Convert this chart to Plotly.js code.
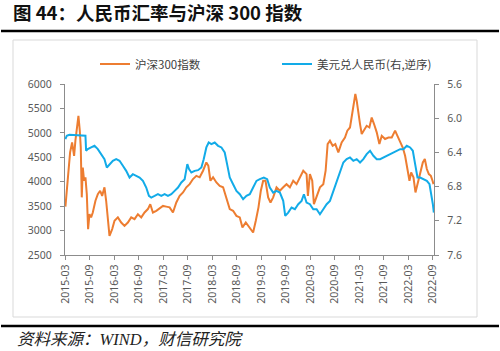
<!DOCTYPE html>
<html>
<head>
<meta charset="utf-8">
<script src="https://cdn.plot.ly/plotly-3.0.1.min.js"></script>
<style>
html,body{margin:0;padding:0;background:#fff;}
#chart{width:500px;height:351px;}
</style>
</head>
<body>
<div id="chart"></div>
<script>
// Month index counted from 2015-03 (0) to 2022-09 (90)
const tickMonths = [0,6,12,18,24,30,36,42,48,54,60,66,72,78,84,90];
const tickLabels = ["2015-03","2015-09","2016-03","2016-09","2017-03","2017-09","2018-03","2018-09",
                    "2019-03","2019-09","2020-03","2020-09","2021-03","2021-09","2022-03","2022-09"];

// 沪深300指数
const csiMonths = [0,0.57,1.15,1.64,2.13,2.45,2.86,3.19,3.52,3.76,4.01,4.26,4.58,4.91,5.24,5.56,5.89,6.30,6.71,7.36,
  7.94,8.51,9.0,9.57,9.98,10.47,10.80,11.46,12.03,12.85,13.67,14.48,15.30,16.12,16.94,17.76,18.58,19.39,20.21,20.79,
  21.44,22.26,23.08,23.90,24.71,25.53,26.35,27.17,27.99,28.81,29.62,30.44,31.26,32.08,32.90,33.72,34.53,35.02,35.52,36.17,
  36.99,37.81,38.63,39.44,40.26,41.08,41.90,42.72,43.37,44.19,44.84,45.58,45.99,46.64,47.30,47.87,48.45,49.02,49.67,50.25,
  50.90,51.72,52.54,53.36,54.17,54.99,55.81,56.63,57.45,58.27,59.08,59.41,59.90,60.47,60.88,61.54,62.36,63.18,63.75,64.24,
  64.81,65.47,66.12,66.86,67.68,68.49,69.07,69.72,70.54,71.03,71.36,71.77,72.18,72.59,73.16,73.81,74.47,75.04,75.61,76.27,
  76.92,77.50,78.31,79.13,79.95,80.77,81.34,82.0,82.65,83.22,83.80,84.29,84.70,85.27,85.76,86.25,86.91,87.56,88.05,88.54,
  89.03,89.53,89.94,90.18];
const csiValues = [3490,4020,4600,4805,4530,4840,5180,5350,5045,4705,3680,4290,4020,4090,3745,3030,3335,3270,3370,3610,
  3745,3815,3710,3885,3610,3065,2890,3030,3200,3270,3165,3095,3165,3270,3235,3335,3270,3370,3440,3540,
  3370,3405,3460,3505,3490,3475,3370,3575,3710,3780,3885,3950,4055,4120,4090,4225,4395,4325,4020,4090,
  3985,3915,3885,3645,3440,3405,3300,3270,3065,3165,3095,2995,2960,3200,3475,3815,4020,4020,3680,3575,
  3680,3885,3815,3885,3950,3885,4020,3950,4090,4225,4155,3710,4155,4020,3540,3710,3885,3950,4225,4770,
  4840,4735,4770,4600,4805,4905,5045,5110,5520,5795,5660,5385,5180,4975,5045,5145,5110,5315,5180,5010,
  4770,4940,4875,4905,4905,5045,4940,4805,4700,4530,4290,4020,4190,4090,3780,3950,4155,4395,4465,4260,
  4155,4120,4020,3950];

// 美元兑人民币
const fxMonths = [0,0.33,0.98,2.62,3.85,4.91,5.07,5.48,6.30,7.12,7.94,8.76,9.57,10.15,10.80,11.62,12.44,13.26,14.08,14.89,
  15.71,16.53,17.35,18.17,18.99,19.80,20.46,21.03,21.85,22.67,23.49,24.30,25.12,25.94,26.76,27.58,28.40,29.21,29.87,30.28,
  30.85,31.67,32.49,33.31,33.88,34.53,35.11,35.76,36.58,37.40,38.22,39.03,39.61,40.26,41.08,41.90,42.72,43.54,44.35,45.17,
  45.99,46.81,47.63,48.61,49.43,50.08,50.90,51.72,52.54,53.36,53.85,54.58,55.40,56.22,57.04,57.86,58.43,59.08,59.90,60.72,
  61.54,62.36,63.18,64.0,64.81,65.63,66.45,67.27,68.09,68.90,69.72,70.54,71.36,72.18,72.99,73.81,74.63,75.45,76.27,77.09,
  77.91,78.72,79.54,80.36,81.18,82.0,82.82,83.63,84.45,85.11,85.68,86.25,86.91,87.73,88.54,89.20,89.69,90.02,90.26];
const fxValues = [6.244,6.205,6.194,6.198,6.205,6.205,6.381,6.362,6.342,6.323,6.362,6.420,6.479,6.577,6.537,6.498,6.479,6.498,6.557,6.616,
  6.694,6.655,6.674,6.694,6.733,6.811,6.909,6.928,6.909,6.889,6.909,6.889,6.909,6.889,6.850,6.811,6.752,6.713,6.537,6.596,
  6.635,6.616,6.608,6.577,6.479,6.342,6.284,6.303,6.284,6.323,6.342,6.401,6.537,6.694,6.772,6.850,6.889,6.948,6.909,6.889,
  6.811,6.733,6.713,6.694,6.713,6.811,6.870,6.850,6.870,6.967,7.143,7.104,7.045,7.065,7.006,6.967,6.889,6.987,7.006,7.065,
  7.065,7.123,7.065,7.006,6.967,6.850,6.733,6.616,6.518,6.479,6.459,6.498,6.479,6.518,6.479,6.420,6.381,6.440,6.479,6.479,
  6.459,6.440,6.420,6.401,6.381,6.362,6.362,6.323,6.342,6.381,6.537,6.694,6.694,6.713,6.733,6.772,6.889,7.006,7.104];

const leftTicks = [2500,3000,3500,4000,4500,5000,5500,6000];
const rightTicks = [5.6,6.0,6.4,6.8,7.2,7.6];

const axisColor = '#8c8c8c';
const tickFont = {family:'Noto Sans, sans-serif', size:10.5, color:'#595959'};
const cjk = 'Noto Sans CJK SC, sans-serif';

const traces = [
  {x: csiMonths, y: csiValues, type:'scatter', mode:'lines', name:'沪深300指数',
   line:{color:'#ED7D31', width:2}, yaxis:'y'},
  {x: fxMonths, y: fxValues, type:'scatter', mode:'lines', name:'美元兑人民币(右,逆序)',
   line:{color:'#12ABE8', width:2}, yaxis:'y2'}
];

// paper-coordinate helpers for the decorative frame (plot area spans px 65..434, 84..255)
const px = v => (v - 65) / 369;
const py = v => (255 - v) / 171;

const layout = {
  width:500, height:351,
  margin:{l:65, r:66, t:84, b:96},
  paper_bgcolor:'#fff', plot_bgcolor:'#fff',
  showlegend:true,
  title:{text:'<b>图 44：人民币汇率与沪深 300 指数</b>', x:0.026, xanchor:'left', xref:'container',
         y:0.962, yanchor:'middle', yref:'container',
         font:{family:cjk, size:18.5, color:'#111'}},
  legend:{orientation:'h', x:px(95), xanchor:'left', y:py(64), yanchor:'middle',
          font:{family:cjk, size:11.5, color:'#404040'}, bgcolor:'rgba(0,0,0,0)',
          entrywidth:137, entrywidthmode:'pixels', itemwidth:30},
  xaxis:{range:[-0.1, 90.3], tickvals:tickMonths, ticktext:tickLabels, tickangle:-90,
         showline:true, linecolor:axisColor, linewidth:1.2, ticks:'outside', ticklen:4, tickcolor:axisColor,
         showgrid:false, zeroline:false, tickfont:tickFont, fixedrange:true},
  yaxis:{range:[2500,6000], tickvals:leftTicks, showline:true, linecolor:axisColor, linewidth:1.2,
         ticks:'outside', ticklen:4, tickcolor:axisColor, showgrid:false, zeroline:false,
         tickfont:tickFont, ticklabelstandoff:6},
  yaxis2:{range:[7.6,5.6], tickvals:rightTicks, tickformat:'.1f', overlaying:'y', side:'right',
          showline:true, linecolor:axisColor, linewidth:1.2, ticks:'outside', ticklen:4, tickcolor:axisColor,
          showgrid:false, zeroline:false, tickfont:tickFont, ticklabelstandoff:6},
  shapes:[
    {type:'rect', xref:'paper', yref:'paper', x0:px(13), x1:px(477), y0:py(317), y1:py(40),
     line:{color:'#d9d9d9', width:1}, layer:'below'},
    {type:'line', xref:'paper', yref:'paper', x0:px(1), x1:px(499), y0:py(31), y1:py(31),
     line:{color:'#000', width:2.5}},
    {type:'line', xref:'paper', yref:'paper', x0:px(1), x1:px(499), y0:py(326), y1:py(326),
     line:{color:'#000', width:2.5}}
  ],
  annotations:[
    {text:'<i>资料来源：WIND，财信研究院</i>', xref:'paper', yref:'paper', x:px(15), y:py(339),
     xanchor:'left', yanchor:'middle', showarrow:false,
     font:{family:'Liberation Serif, '+cjk, size:16.5, color:'#222'}}
  ]
};

Plotly.newPlot('chart', traces, layout, {displayModeBar:false, staticPlot:true});
</script>
</body>
</html>
